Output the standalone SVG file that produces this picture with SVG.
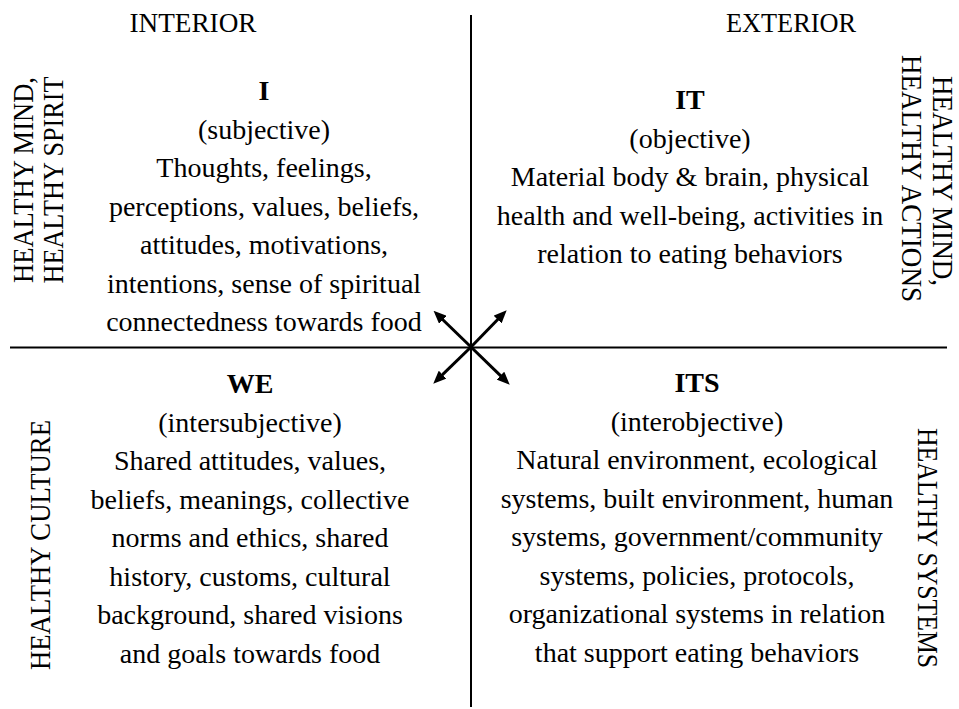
<svg xmlns="http://www.w3.org/2000/svg" width="959" height="709" viewBox="0 0 959 709">
<style>
text{font-family:"Liberation Serif","Times New Roman",serif;fill:#000}
.b{font-size:28px;text-anchor:middle}
.h{font-size:28px;font-weight:bold;text-anchor:middle}
.t{font-size:28px;text-anchor:middle}
.v{font-size:29px;text-anchor:middle}
.ax{stroke:#000;stroke-width:2;fill:none}
.ar{stroke:#000;stroke-width:3;fill:none;marker-end:url(#ah)}
</style>
<defs>
<marker id="ah" markerUnits="userSpaceOnUse" markerWidth="13" markerHeight="11" refX="4" refY="5.5" orient="auto" viewBox="0 0 13 11">
<path d="M0,0 L13,5.5 L0,11 z" fill="#000"/>
</marker>
</defs>
<rect width="959" height="709" fill="#fff"/>
<g id="connectors">
<line class="ax" x1="471" y1="15" x2="471" y2="707"/>
<line class="ax" x1="10" y1="347.5" x2="947" y2="347.5"/>
<line class="ar" x1="471" y1="347" x2="440" y2="317"/>
<line class="ar" x1="471" y1="347" x2="500.4" y2="316.7"/>
<line class="ar" x1="471" y1="347" x2="439.7" y2="377.4"/>
<line class="ar" x1="471" y1="347" x2="503.3" y2="378.4"/>
</g>
<g id="label-interior"><text class="t" x="193" y="32" textLength="127" lengthAdjust="spacingAndGlyphs">INTERIOR</text></g>
<g id="label-exterior"><text class="t" x="791" y="32" textLength="130" lengthAdjust="spacingAndGlyphs">EXTERIOR</text></g>
<g id="label-left-top">
<text class="v" transform="translate(33,180) rotate(-90)" textLength="206" lengthAdjust="spacingAndGlyphs">HEALTHY MIND,</text>
<text class="v" transform="translate(63,180) rotate(-90)" textLength="207" lengthAdjust="spacingAndGlyphs">HEALTHY SPIRIT</text>
</g>
<g id="label-left-bottom">
<text class="v" transform="translate(50,545) rotate(-90)" textLength="250" lengthAdjust="spacingAndGlyphs">HEALTHY CULTURE</text>
</g>
<g id="label-right-top">
<text class="v" transform="translate(933,181) rotate(90)" textLength="210" lengthAdjust="spacingAndGlyphs">HEALTHY MIND,</text>
<text class="v" transform="translate(902,178.5) rotate(90)" textLength="247" lengthAdjust="spacingAndGlyphs">HEALTHY ACTIONS</text>
</g>
<g id="label-right-bottom">
<text class="v" transform="translate(918,548) rotate(90)" textLength="240" lengthAdjust="spacingAndGlyphs">HEALTHY SYSTEMS</text>
</g>
<g id="quadrant-I">
<text class="h" x="264" y="100">I</text>
<text class="b" x="264" y="138.5">(subjective)</text>
<text class="b" x="264" y="177">Thoughts, feelings,</text>
<text class="b" x="264" y="215.5">perceptions, values, beliefs,</text>
<text class="b" x="264" y="254">attitudes, motivations,</text>
<text class="b" x="264" y="292.5">intentions, sense of spiritual</text>
<text class="b" x="264" y="331">connectedness towards food</text>
</g>
<g id="quadrant-IT">
<text class="h" x="690" y="109">IT</text>
<text class="b" x="690" y="147.5">(objective)</text>
<text class="b" x="690" y="186">Material body &amp; brain, physical</text>
<text class="b" x="690" y="224.5">health and well-being, activities in</text>
<text class="b" x="690" y="263">relation to eating behaviors</text>
</g>
<g id="quadrant-WE">
<text class="h" x="250" y="393">WE</text>
<text class="b" x="250" y="431.5">(intersubjective)</text>
<text class="b" x="250" y="470">Shared attitudes, values,</text>
<text class="b" x="250" y="508.5">beliefs, meanings, collective</text>
<text class="b" x="250" y="547">norms and ethics, shared</text>
<text class="b" x="250" y="585.5">history, customs, cultural</text>
<text class="b" x="250" y="624">background, shared visions</text>
<text class="b" x="250" y="662.5">and goals towards food</text>
</g>
<g id="quadrant-ITS">
<text class="h" x="697" y="392">ITS</text>
<text class="b" x="697" y="430.5">(interobjective)</text>
<text class="b" x="697" y="469">Natural environment, ecological</text>
<text class="b" x="697" y="507.5">systems, built environment, human</text>
<text class="b" x="697" y="546">systems, government/community</text>
<text class="b" x="697" y="584.5">systems, policies, protocols,</text>
<text class="b" x="697" y="623">organizational systems in relation</text>
<text class="b" x="697" y="661.5">that support eating behaviors</text>
</g>
</svg>
